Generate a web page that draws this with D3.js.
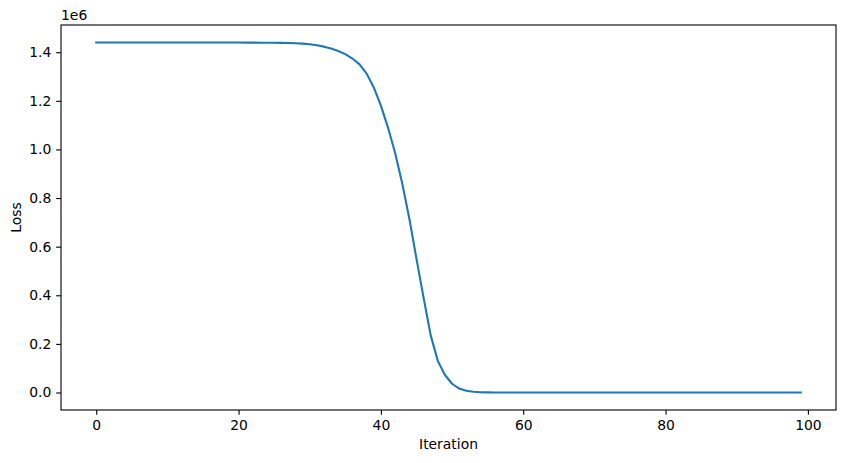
<!DOCTYPE html>
<html><head><meta charset="utf-8">
<script src="https://cdn.jsdelivr.net/npm/d3@7"></script>
<style>body{margin:0;background:#fff}svg{display:block}text{font-family:"DejaVu Sans",sans-serif;fill:#000}</style>
</head><body>
<svg id="c" width="846" height="463"></svg>
<script>
// Loss per iteration (units of 1e6)
const iterations = d3.range(0, 100);
const lossHead = [1.4400,1.4400,1.4400,1.4400,1.4400,1.4400,1.4400,1.4400,1.4400,1.4400,
  1.4400,1.4400,1.4400,1.4400,1.4400,1.4400,1.4400,1.4399,1.4399,1.4398,
  1.4397,1.4396,1.4395,1.4393,1.4390,1.4387,1.4383,1.4377,1.4368,1.4355,
  1.4330,1.4290,1.4230,1.4150,1.4050,1.3920,1.3740,1.3500,1.3120,1.2550,
  1.1800,1.0900,0.9850,0.8600,0.7150,0.5500,0.3900,0.2350,0.1300,0.0720,
  0.0360,0.0160,0.0070,0.0030,0.0012,0.0005,0.0002,0.0001,0.0000,0.0000];
const lossTail = new Array(40).fill(0.0000);
const loss = lossHead.concat(lossTail).map(v => v * 1e6);
const xTicks = [0, 20, 40, 60, 80, 100];
const yTicks = [0, 0.2e6, 0.4e6, 0.6e6, 0.8e6, 1.0e6, 1.2e6, 1.4e6];

const svg = d3.select("#c");
const L = 61, R = 836, T = 25, B = 410;
const xmin = 0, xmax = 99, xpad = (xmax - xmin) * 0.05;
const ymin = d3.min(loss), ymax = d3.max(loss), ypad = (ymax - ymin) * 0.05;
const x = d3.scaleLinear().domain([xmin - xpad, xmax + xpad]).range([L, R]);
const y = d3.scaleLinear().domain([ymin - ypad, ymax + ypad]).range([B, T]);

const data = iterations.map((d, i) => [d, loss[i]]);
svg.append("path").datum(data)
  .attr("fill", "none").attr("stroke", "#1f77b4").attr("stroke-width", 2.08)
  .attr("stroke-linejoin", "round").attr("stroke-linecap", "square")
  .attr("d", d3.line().x(d => x(d[0])).y(d => y(d[1])));

const fs = "13.9px";
const xa = svg.append("g").attr("transform", `translate(0,${B})`)
  .call(d3.axisBottom(x).tickValues(xTicks).tickSize(4.86).tickPadding(4.86).tickFormat(d3.format("d")));
const ya = svg.append("g").attr("transform", `translate(${L},0)`)
  .call(d3.axisLeft(y).tickValues(yTicks).tickSize(4.86).tickPadding(4.86).tickFormat(d => (d / 1e6).toFixed(1)));
[xa, ya].forEach(a => {
  a.select(".domain").remove();
  a.selectAll("line").attr("stroke", "#000").attr("stroke-width", 1.1);
  a.selectAll("text").attr("font-family", "DejaVu Sans").attr("font-size", fs).attr("fill", "#000");
});

svg.append("rect").attr("x", L).attr("y", T).attr("width", R - L).attr("height", B - T)
  .attr("fill", "none").attr("stroke", "#000").attr("stroke-width", 1.1);

svg.append("text").attr("x", (L + R) / 2).attr("y", 449).attr("text-anchor", "middle")
  .attr("font-size", fs).text("Iteration");
svg.append("text").attr("transform", `translate(21,${(T + B) / 2}) rotate(-90)`)
  .attr("text-anchor", "middle").attr("font-size", fs).text("Loss");
svg.append("text").attr("x", L).attr("y", 20).attr("font-size", fs).text("1e6");
</script>
</body></html>
